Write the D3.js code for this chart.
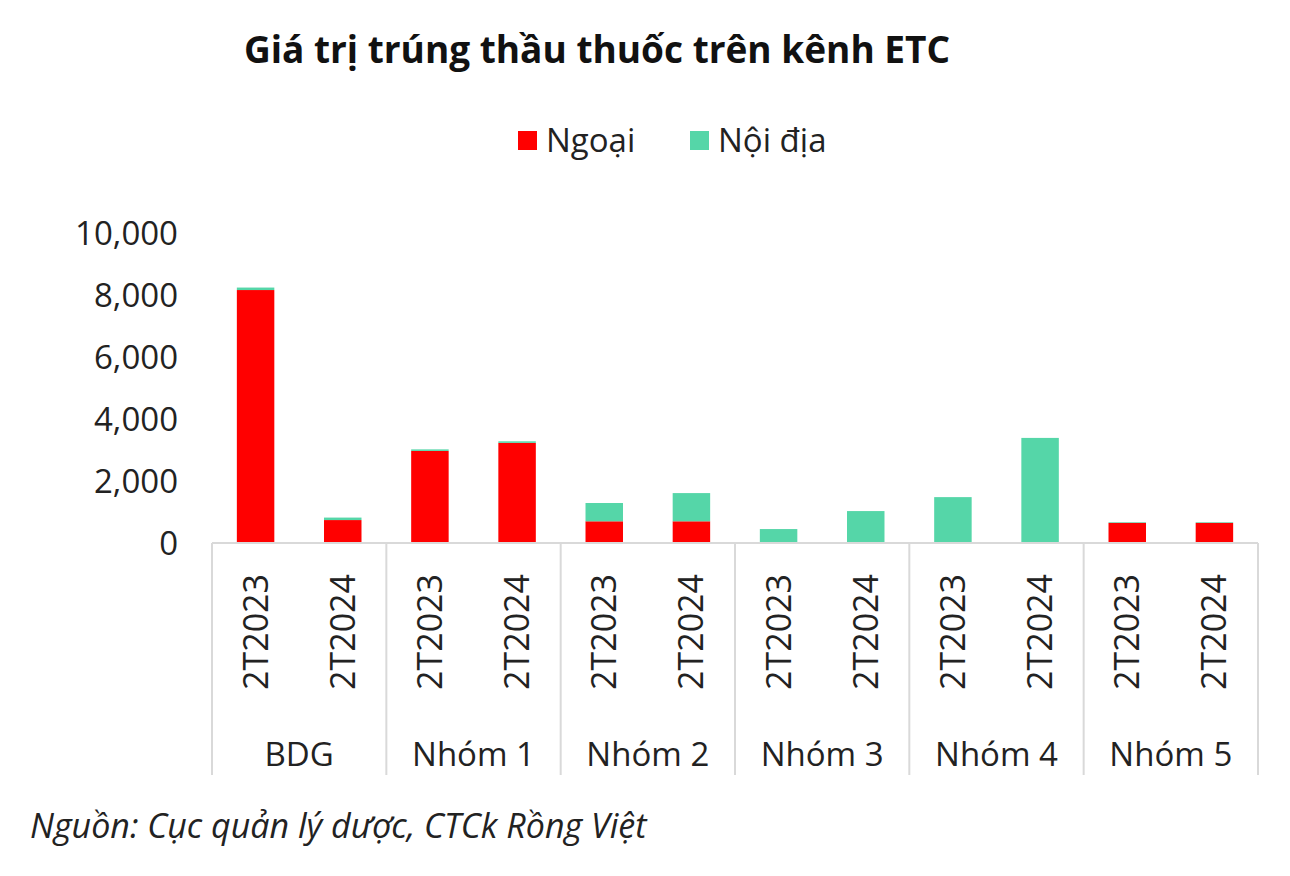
<!DOCTYPE html><html><head><meta charset="utf-8"><script src="https://cdn.jsdelivr.net/npm/d3@7"></script>
<style>body{margin:0;background:#fff}text{font-family:"Open Sans","DejaVu Sans",sans-serif}</style></head><body>
<svg id="c" width="1290" height="876"></svg>
<script>
const groups=["BDG","Nhóm 1","Nhóm 2","Nhóm 3","Nhóm 4","Nhóm 5"];
const periods=["2T2023","2T2024"];
const ngoai=[8160,740,2970,3230,700,700,0,0,0,0,650,650];
const noiDia=[80,80,50,50,590,910,450,1030,1480,3390,20,20];
const yTicks=[0,2000,4000,6000,8000,10000];
const svg=d3.select("#c");
const L=212,R=1258,T=233,B=543;
const cats=[];groups.forEach(g=>periods.forEach(p=>cats.push(g+"|"+p)));
const x=d3.scaleBand().domain(cats).range([L,R]).paddingInner(0.57).paddingOuter(0.285);
const y=d3.scaleLinear().domain([0,10000]).range([B,T]);
svg.append("text").attr("x",597).attr("y",63).attr("text-anchor","middle").attr("font-size",37).attr("font-weight","bold").attr("fill","#111").text("Giá trị trúng thầu thuốc trên kênh ETC");
const leg=[["Ngoại","#FF0000",518],["Nội địa","#55D6A8",690]];
leg.forEach(l=>{svg.append("rect").attr("x",l[2]).attr("y",131).attr("width",19).attr("height",19).attr("fill",l[1]);
svg.append("text").attr("x",l[2]+28).attr("y",152).attr("font-size",33).attr("fill","#222").text(l[0]);});
yTicks.forEach(t=>svg.append("text").attr("x",178).attr("y",y(t)+12).attr("text-anchor","end").attr("font-size",33).attr("fill","#222").text(d3.format(",")(t)));
cats.forEach((c,i)=>{
 svg.append("rect").attr("x",x(c)).attr("width",x.bandwidth()).attr("y",y(ngoai[i])).attr("height",B-y(ngoai[i])).attr("fill","#FF0000");
 svg.append("rect").attr("x",x(c)).attr("width",x.bandwidth()).attr("y",y(ngoai[i]+noiDia[i])).attr("height",y(ngoai[i])-y(ngoai[i]+noiDia[i])).attr("fill","#55D6A8");
 const cx=x(c)+x.bandwidth()/2;
 svg.append("text").attr("transform",`translate(${cx+12},${632}) rotate(-90)`).attr("text-anchor","middle").attr("font-size",34).attr("fill","#222").text(c.split("|")[1]);
});
svg.append("line").attr("x1",L).attr("x2",R).attr("y1",B).attr("y2",B).attr("stroke","#d9d9d9").attr("stroke-width",2);
const step=x.step();
for(let g=0;g<=groups.length;g++){const gx=L+g*2*step;
 svg.append("line").attr("x1",gx).attr("x2",gx).attr("y1",B).attr("y2",775).attr("stroke","#d9d9d9").attr("stroke-width",2);
 if(g<groups.length)svg.append("text").attr("x",gx+step).attr("y",766).attr("text-anchor","middle").attr("font-size",33).attr("fill","#222").text(groups[g]);}
svg.append("text").attr("x",30).attr("y",838).attr("font-size",34).attr("font-style","italic").attr("fill","#222").text("Nguồn: Cục quản lý dược, CTCk Rồng Việt");
</script></body></html>
